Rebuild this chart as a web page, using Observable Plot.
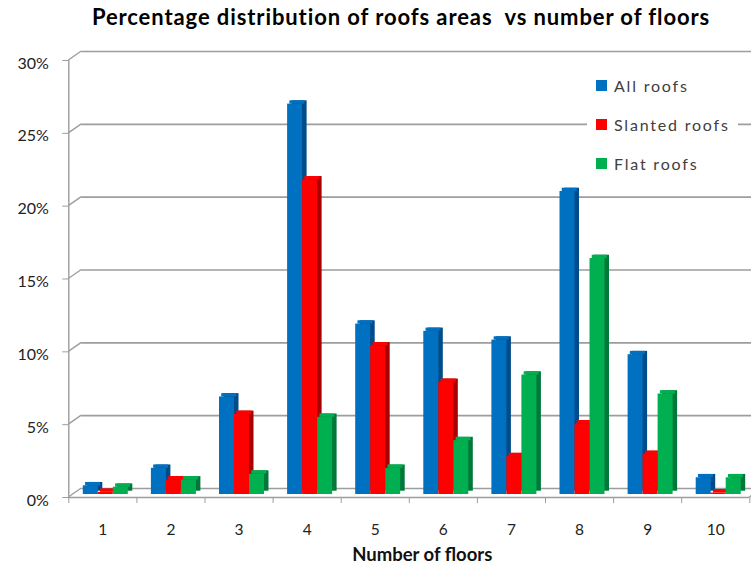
<!DOCTYPE html>
<html><head><meta charset="utf-8">
<script src="https://cdn.jsdelivr.net/npm/d3@7"></script>
<script src="https://cdn.jsdelivr.net/npm/@observablehq/plot@0.6"></script>
<style>
body{margin:0;background:#fff;font-family:Lato,sans-serif;}
#wrap{position:relative;width:751px;height:568px;overflow:hidden;background:#fff;}
#title{height:40px;position:relative;}
#title span{position:absolute;left:401px;top:6px;line-height:22px;transform:translateX(-50%);white-space:nowrap;font-weight:700;font-size:22px;letter-spacing:0.9px;color:#000;}
#legend{position:absolute;left:587px;top:66px;width:151px;height:115px;background:#fff;}
.item{position:absolute;left:9px;height:18px;display:flex;align-items:center;font-size:16px;letter-spacing:1.8px;color:#404040;white-space:nowrap}
.sw{width:11px;height:11px;margin-right:7px}
</style></head><body>
<div id="wrap">
<div id="title"><span>Percentage distribution of roofs areas&nbsp; vs number of floors</span></div>
<div id="chart"></div>
<div id="legend"></div>
</div>
<script>
const floors = [1, 2, 3, 4, 5, 6, 7, 8, 9, 10];
const seriesNames = ["All roofs", "Slanted roofs", "Flat roofs"];
const allRoofs = [0.6, 1.8, 6.7, 26.8, 11.7, 11.2, 10.6, 20.8, 9.6, 1.15];
const slantedRoofs = [0.15, 1.0, 5.5, 21.6, 10.2, 7.7, 2.6, 4.85, 2.75, 0.1];
const flatRoofs = [0.5, 1.0, 1.4, 5.3, 1.8, 3.7, 8.2, 16.2, 6.9, 1.15];
const yTicks = [0, 5, 10, 15, 20, 25, 30];
const xLabel = "Number of floors";

const colors = ["#0070C0", "#FF0000", "#00B050"];
const sideColors = ["#004C8A", "#A80000", "#00783A"];
const gridColor = "#9d9d9d";

const seriesValues = [allRoofs, slantedRoofs, flatRoofs];
const rows = floors.flatMap((f, i) => seriesNames.map((s, k) => ({floor: f, series: s, k, value: seriesValues[k][i]})));
const bounds = floors.map(f => f - 0.5).concat([floors[floors.length - 1] + 0.5]);

// depth offsets (style)
const BACK_DX = 13, BACK_DY = -9;     // back wall relative to front axis
const BAR_DX = 4.3, BAR_DY = -3;      // bars plane relative to front axis
const DEP_DX = 4.5, DEP_DY = -3.3;    // bar depth
const BAR_W = 15, FIRST_INSET = 10.2, BAND = 68.1;

function depthFrame(index, {x, y}) {
  const g = d3.create("svg:g").attr("stroke", gridColor).attr("stroke-width", 1.4).attr("fill", "none");
  const xl = x(bounds[0]), xr = x(bounds[bounds.length - 1]);
  for (const t of yTicks) {
    g.append("line").attr("x1", xl).attr("y1", y(t)).attr("x2", xl + BACK_DX).attr("y2", y(t) + BACK_DY);
  }
  g.append("line").attr("x1", xr).attr("y1", y(0)).attr("x2", xr + BACK_DX).attr("y2", y(0) + BACK_DY);
  return g.node();
}

const barMarks = seriesNames.flatMap((s, k) => {
  const data = rows.filter(d => d.k === k);
  const common = {
    x1: d => d.floor - 0.5, x2: d => d.floor + 0.5,
    insetLeft: FIRST_INSET + BAR_W * k,
    insetRight: BAND - FIRST_INSET - BAR_W * (k + 1)
  };
  return [
    Plot.rect(data, {...common, y1: 0, y2: "value", fill: sideColors[k], dx: BAR_DX + DEP_DX, dy: BAR_DY + DEP_DY}),
    Plot.rect(data, {...common, y1: "value", y2: "value", insetTop: DEP_DY, fill: colors[k], dx: BAR_DX + DEP_DX / 2, dy: BAR_DY}),
    Plot.rect(data, {...common, y1: 0, y2: "value", fill: colors[k], dx: BAR_DX, dy: BAR_DY})
  ];
});

const chart = Plot.plot({
  width: 751,
  height: 528,
  marginLeft: 68.3,
  marginRight: 1.7,
  marginTop: 20,
  marginBottom: 71,
  x: {domain: [bounds[0], bounds[bounds.length - 1]]},
  y: {domain: [0, 30]},
  style: {fontFamily: "Lato, sans-serif", fontSize: "16px", color: "#222", background: "transparent", overflow: "visible"},
  marks: [
    Plot.ruleY(yTicks, {dx: BACK_DX, dy: BACK_DY, stroke: gridColor, strokeWidth: 1.6}),
    depthFrame,
    Plot.ruleY([0], {stroke: gridColor, strokeWidth: 1.4}),
    Plot.ruleX([bounds[0]], {stroke: gridColor, strokeWidth: 1.4}),
    ...barMarks,
    Plot.axisY(yTicks, {tickSize: 6, tickFormat: () => "", stroke: gridColor, label: null}),
    Plot.axisY(yTicks, {tickSize: 0, tickPadding: 20, dy: 3, tickFormat: d => d + "%", fontSize: 16, fill: "#222", label: null}),
    Plot.axisX(bounds, {tickSize: 6, tickFormat: () => "", stroke: gridColor, label: null}),
    Plot.axisX(floors, {tickSize: 0, tickPadding: 26, fontSize: 15.5, fill: "#222", label: null}),
    Plot.text([xLabel], {text: d => d, frameAnchor: "bottom", dx: 13, dy: 63, fontSize: 18.5, fontWeight: "bold", fill: "#111"})
  ]
});
document.getElementById("chart").appendChild(chart);

const legend = document.getElementById("legend");
const itemTops = [10, 49.5, 88];
seriesNames.forEach((s, k) => {
  const it = document.createElement("div");
  it.className = "item";
  it.style.top = itemTops[k] + "px";
  it.innerHTML = `<span class="sw" style="background:${colors[k]}"></span><span>${s}</span>`;
  legend.appendChild(it);
});
</script>
</body></html>
